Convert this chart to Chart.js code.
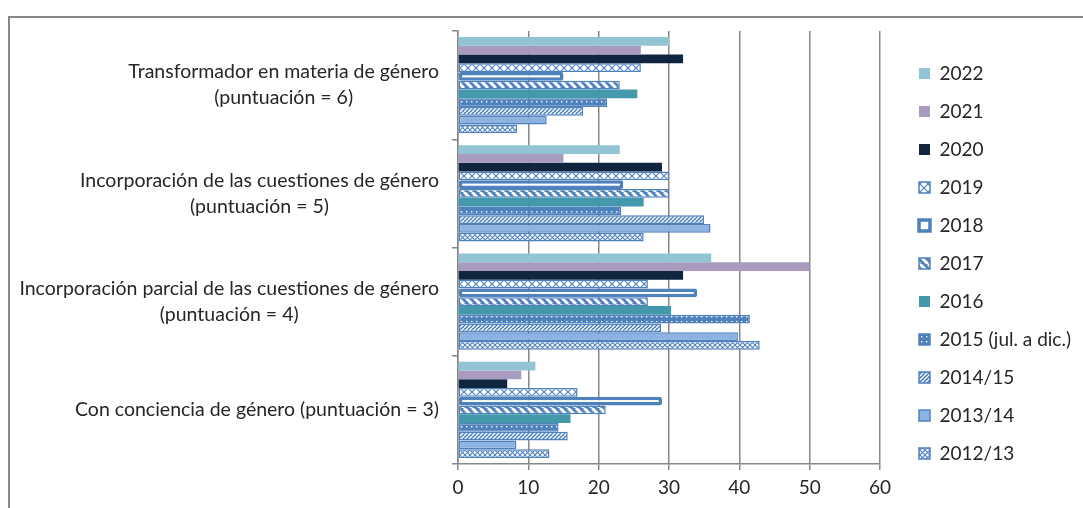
<!DOCTYPE html>
<html><head><meta charset="utf-8">
<script src="https://cdn.jsdelivr.net/npm/chart.js"></script>
<style>html,body{margin:0;padding:0;background:#fff;overflow:hidden}#wrap{width:1083px;height:508px;position:relative}</style>
</head><body><div id="wrap"><canvas id="c" width="1083" height="508"></canvas></div>
<script>
const categories = [
  ['Transformador en materia de género', '(puntuación = 6)'],
  ['Incorporación de las cuestiones de género', '(puntuación = 5)'],
  ['Incorporación parcial de las cuestiones de género', '(puntuación = 4)'],
  ['Con conciencia de género (puntuación = 3)']
];
const seriesNames = ['2022', '2021', '2020', '2019', '2018', '2017', '2016', '2015 (jul. a dic.)', '2014/15', '2013/14', '2012/13'];
const v2022 = [30, 23, 36, 11];
const v2021 = [26, 15, 50, 9];
const v2020 = [32, 29, 32, 7];
const v2019 = [26, 30, 27, 17];
const v2018 = [15, 23.5, 34, 29];
const v2017 = [23, 30, 27, 21];
const v2016 = [25.5, 26.4, 30.3, 16];
const v2015 = [21.2, 23.2, 41.5, 14.3];
const v2014_15 = [17.8, 35, 28.9, 15.6];
const v2013_14 = [12.6, 35.9, 39.8, 8.3];
const v2012_13 = [8.4, 26.4, 42.9, 13];
const xMin = 0, xMax = 60, xStep = 10;

const canvas = document.getElementById('c');
const ctx = canvas.getContext('2d');
const B = '#4F81BD', W = '#FFFFFF';
function makePattern(size, draw) {
  const c = document.createElement('canvas');
  c.width = c.height = size;
  const g = c.getContext('2d');
  draw(g, size);
  return ctx.createPattern(c, 'repeat');
}
const p2019 = makePattern(8, (g, s) => {
  g.fillStyle = W; g.fillRect(0, 0, s, s);
  g.strokeStyle = B; g.lineWidth = 1.2; g.beginPath();
  g.moveTo(0, 0); g.lineTo(s, s); g.moveTo(s, 0); g.lineTo(0, s); g.stroke();
});
const p2017 = makePattern(8, (g, s) => {
  g.fillStyle = B; g.fillRect(0, 0, s, s);
  g.strokeStyle = W; g.lineWidth = 3; g.beginPath();
  for (const x0 of [-s, 0, s]) { g.moveTo(x0, 0); g.lineTo(x0 + s, s); }
  g.stroke();
});
const p2015 = makePattern(5, (g, s) => {
  g.fillStyle = B; g.fillRect(0, 0, s, s);
  g.fillStyle = W; g.fillRect(1, 1, 1.4, 1.4);
});
const p2014 = makePattern(4, (g, s) => {
  g.fillStyle = B; g.fillRect(0, 0, s, s);
  g.strokeStyle = W; g.lineWidth = 1.4; g.beginPath();
  for (const x0 of [-s, 0, s]) { g.moveTo(x0, s); g.lineTo(x0 + s, 0); }
  g.stroke();
});
const p2012 = makePattern(5, (g, s) => {
  g.fillStyle = W; g.fillRect(0, 0, s, s);
  g.strokeStyle = B; g.lineWidth = 1.1; g.beginPath();
  g.moveTo(0, 0); g.lineTo(s, s); g.moveTo(s, 0); g.lineTo(0, s); g.stroke();
});

const seriesValues = [v2022, v2021, v2020, v2019, v2018, v2017, v2016, v2015, v2014_15, v2013_14, v2012_13];
const seriesFill = ['#92C4D5', '#A89BBE', '#10253F', p2019, '#FFFFFF', p2017, '#4398AB', p2015, p2014, '#8DB3E2', p2012];
const seriesBorder = ['#92C4D5', '#A89BBE', '#10253F', B, B, B, '#4398AB', B, B, B, B];
const seriesBorderW = [0, 0, 0, 1.5, 3.5, 1.5, 0, 1.5, 1.5, 1.5, 1.5];

const datasets = seriesNames.map((name, i) => ({
  label: name,
  data: seriesValues[i],
  backgroundColor: seriesFill[i],
  borderColor: seriesBorder[i],
  borderWidth: seriesBorderW[i],
  borderSkipped: false,
  borderRadius: i === 4 ? 2 : 0
}));

const FONT = 'Lato';
const TXT = '#262626';
const GRID = '#878787';
const FS = 19.5;

const labelPlugin = {
  id: 'catLabels',
  afterDraw(chart) {
    const c = chart.ctx, ys = chart.scales.y;
    c.save();
    c.font = FS + 'px ' + FONT;
    c.fillStyle = TXT;
    c.textAlign = 'center';
    c.textBaseline = 'middle';
    const right = ys.right - 19;
    categories.forEach((lines, i) => {
      const yc = ys.getPixelForValue(i);
      const w = Math.max(...lines.map(l => c.measureText(l).width));
      const cx = right - w / 2;
      const lh = 26;
      lines.forEach((l, j) => c.fillText(l, cx, yc + (j - (lines.length - 1) / 2) * lh));
    });
    c.restore();
  }
};
const framePlugin = {
  id: 'frame',
  beforeDraw(chart) {
    const c = chart.ctx;
    c.save();
    c.strokeStyle = GRID; c.lineWidth = 2;
    c.beginPath();
    c.moveTo(9, chart.height); c.lineTo(9, 17); c.lineTo(chart.width, 17);
    c.stroke();
    c.restore();
  }
};

new Chart(ctx, {
  type: 'bar',
  data: { labels: categories.map(c => c.join(' ')), datasets },
  options: {
    indexAxis: 'y',
    responsive: false,
    animation: false,
    devicePixelRatio: 1,
    layout: { padding: { top: 31, bottom: 12, left: 0, right: 3 } },
    datasets: { bar: { categoryPercentage: 0.89, barPercentage: 1 } },
    scales: {
      x: {
        min: xMin, max: xMax,
        ticks: { stepSize: xStep, font: { family: FONT, size: 19 }, color: TXT, padding: 6 },
        grid: { color: GRID, lineWidth: 1.5, tickLength: 6, drawTicks: true },
        border: { color: GRID, width: 1.5 },
        afterFit(s) { s.height = 32; }
      },
      y: {
        ticks: { display: false },
        grid: { drawOnChartArea: false, drawTicks: true, tickLength: 6, color: GRID, lineWidth: 1.5 },
        border: { color: GRID, width: 1.5 },
        afterFit(s) { s.width = 458; }
      },
      y2: {
        type: 'category', position: 'right', display: true,
        ticks: { display: false }, grid: { display: false }, border: { display: false },
        afterFit(s) { s.width = 20; }
      }
    },
    plugins: {
      legend: {
        position: 'right',
        labels: { boxWidth: 11, boxHeight: 11, padding: 19, font: { family: FONT, size: 19 }, color: TXT }
      },
      tooltip: { enabled: false },
      title: { display: false }
    }
  },
  plugins: [labelPlugin, framePlugin]
});
</script>
</body></html>
